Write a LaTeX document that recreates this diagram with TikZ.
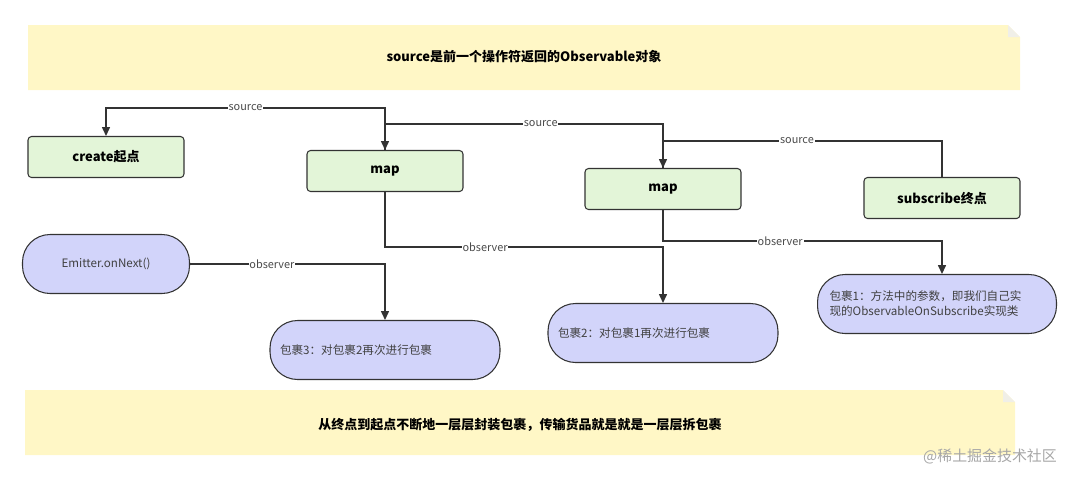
\documentclass[tikz,border=0pt]{standalone}
\usepackage{fontspec}
\setmainfont{Noto Sans CJK SC}
\usetikzlibrary{arrows.meta}
\definecolor{notefill}{HTML}{FFF7C6}
\definecolor{opfill}{HTML}{E3F5D8}
\definecolor{pkgfill}{HTML}{D2D4FA}

\tikzset{
  op/.style={draw=black!80,fill=opfill,rounded corners=2pt,line width=0.6pt,
    minimum width=3.12cm,minimum height=0.82cm,font=\fontsize{7.4}{9}\selectfont\bfseries},
  pkg/.style={draw=black!80,fill=pkgfill,rounded corners=0.55cm,line width=0.6pt,
    minimum height=1.18cm,font=\fontsize{6.6}{8.5}\selectfont,text=black!75},
  link/.style={draw=black!80,line width=0.7pt,-{Triangle[length=5pt,width=4.5pt]}},
  lab/.style={fill=white,inner sep=0.5pt,font=\fontsize{6.2}{7}\selectfont,text=black!70}
}

\begin{document}
\begin{tikzpicture}[x=0.02cm,y=-0.02cm]
  \useasboundingbox (0,0) rectangle (1080,481);
  % notes
  \fill[notefill] (28,25) -- (1008,25) -- (1020,37) -- (1020,90) -- (28,90) -- cycle;
  \fill[notefill!70!black!20] (1008,25) -- (1008,37) -- (1020,37) -- cycle;
  \node[font=\fontsize{7.4}{9}\selectfont\bfseries] (top) at (524,57) {source是前一个操作符返回的Observable对象};
  \fill[notefill] (25,390) -- (1003,390) -- (1015,402) -- (1015,455) -- (25,455) -- cycle;
  \fill[notefill!70!black!20] (1003,390) -- (1003,402) -- (1015,402) -- cycle;
  \node[font=\fontsize{7.4}{9}\selectfont\bfseries] (bottom) at (520,425) {从终点到起点不断地一层层封装包裹，传输货品就是就是一层层拆包裹};

  % operators
  \node[op] (create) at (106,157) {create起点};
  \node[op] (map1) at (385,171) {map};
  \node[op] (map2) at (663,189) {map};
  \node[op] (subscribe) at (942,198) {subscribe终点};

  % packages
  \node[pkg,minimum width=3.34cm] (emitter) at (106,264) {Emitter.onNext()};
  \node[pkg,minimum width=4.6cm,text width=4.2cm,align=left] (pkg3) at (385,350) {包裹3：对包裹2再次进行包裹};
  \node[pkg,minimum width=4.6cm,text width=4.2cm,align=left] (pkg2) at (663,333) {包裹2：对包裹1再次进行包裹};
  \node[pkg,minimum width=4.78cm,text width=4.3cm,align=left] (pkg1) at (937,304) {包裹1：方法中的参数，即我们自己实\\现的ObservableOnSubscribe实现类};

  % source
  \coordinate (s1) at (385,108);
  \coordinate (s2) at (385,124);
  \coordinate (s3) at (663,141);
  \draw[link] (map1.north) -- (s1) -| node[lab,pos=0.25] {source} (create.north);
  \draw[link] (map2.north) |- (s2) node[lab,pos=0.72] {source} -- (map1.north);
  \draw[link] (subscribe.north) |- (s3) node[lab,pos=0.76] {source} -- (map2.north);

  % observer
  \draw[link] (emitter.east) -| node[lab,pos=0.21] {observer} (pkg3.north);
  \draw[link] (map1.south) |- (663,247) node[lab,pos=0.68] {observer} -- (pkg2.north);
  \draw[link] (map2.south) |- (942,241) node[lab,pos=0.71] {observer} -- (942,274);

  \node[text=black!35,font=\fontsize{8.5}{10}\selectfont] (mark) at (990,456) {@稀土掘金技术社区};
\end{tikzpicture}
\end{document}
